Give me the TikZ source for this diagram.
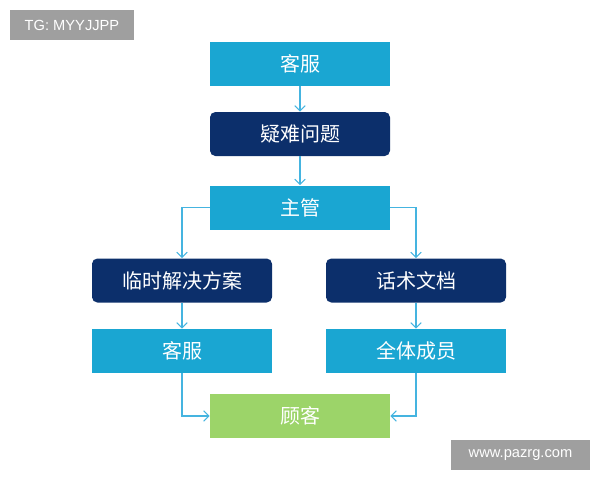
\documentclass[tikz,border=0pt]{standalone}
\usepackage{fontspec}
\setmainfont{Liberation Sans}
\newfontfamily\cjk{Noto Sans CJK SC}
\usetikzlibrary{arrows.meta}
\definecolor{lb}{HTML}{1AA6D2}
\definecolor{nv}{HTML}{0C2F6B}
\definecolor{gr}{HTML}{9CD469}
\definecolor{ar}{HTML}{45B4E0}
\begin{document}
\begin{tikzpicture}[x=0.75pt,y=-0.75pt,
 box/.style={minimum width=135pt,minimum height=33pt,inner sep=0pt,text=white,font=\cjk\fontsize{15}{15}\selectfont},
 bl/.style={box,fill=lb},
 nb/.style={box,fill=nv,rounded corners=4pt},
 gb/.style={box,fill=gr},
 con/.style={draw=ar,line width=0.8pt,-{Straight Barb[length=4pt,width=8pt]}},
 tag/.style={fill=gray!75,text=white,inner sep=0pt,font=\fontsize{11}{11}\selectfont}]
\useasboundingbox (0,0) rectangle (600,480);
\node[bl] (a) at (300,63.5) {客服};
\node[nb] (b) at (300,134) {疑难问题};
\node[bl] (c) at (300,207.5) {主管};
\node[nb] (d) at (182,280.5) {临时解决方案};
\node[nb] (e) at (416,280.5) {话术文档};
\node[bl] (f) at (182,351) {客服};
\node[bl] (g) at (416,351) {全体成员};
\node[gb] (h) at (300,416) {顾客};
\node[tag,minimum width=93pt,minimum height=22.5pt] (t1) at (72,25) {TG: MYYJJPP};
\node[tag,minimum width=104pt,minimum height=22.5pt] (t2) at (520.5,455) {www.pazrg.com};
\draw[con] (a) -- (b);
\draw[con] (b) -- (c);
\draw[con] (c.west) -| (d.north);
\draw[con] (c.east) -| (e.north);
\draw[con] (d) -- (f);
\draw[con] (e) -- (g);
\draw[con] (f.south) |- (h.west);
\draw[con] (g.south) |- (h.east);
\end{tikzpicture}
\end{document}
